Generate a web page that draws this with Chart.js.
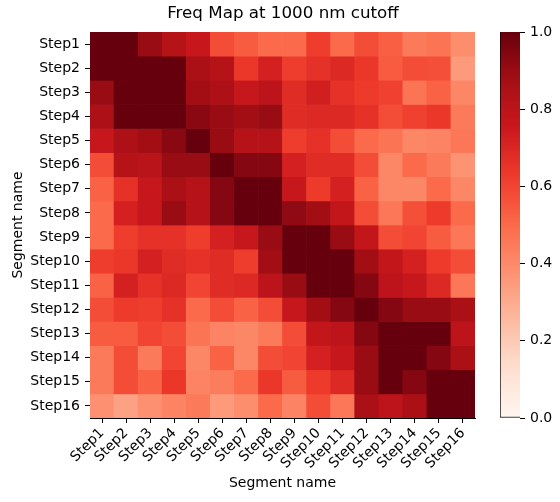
<!DOCTYPE html>
<html>
<head>
<meta charset="utf-8">
<script src="https://cdn.jsdelivr.net/npm/chart.js@4/dist/chart.umd.min.js"></script>
<style>
  body { margin: 0; background: #fff; }
  #wrap { position: relative; width: 560px; height: 502px; }
  #heat { position: absolute; left: 0; top: 0; }
  #bar { position: absolute; left: 490px; top: 0; }
</style>
</head>
<body>
<div id="wrap">
  <canvas id="heat" width="560" height="502"></canvas>
  <canvas id="bar" width="70" height="502"></canvas>
</div>
<script>
const rowLabels = ["Step1", "Step2", "Step3", "Step4", "Step5", "Step6", "Step7", "Step8",
  "Step9", "Step10", "Step11", "Step12", "Step13", "Step14", "Step15", "Step16"];
const colLabels = rowLabels.slice();

// one array per row (Step1 .. Step16), values 0..1
const step1 = [1.0, 1.0, 0.9, 0.82, 0.76, 0.58, 0.54, 0.5, 0.5, 0.62, 0.5, 0.58, 0.53, 0.45, 0.47, 0.39];
const step2 = [1.0, 1.0, 1.0, 1.0, 0.86, 0.82, 0.64, 0.72, 0.62, 0.66, 0.69, 0.64, 0.54, 0.58, 0.57, 0.35];
const step3 = [0.9, 1.0, 1.0, 1.0, 0.88, 0.85, 0.77, 0.8, 0.68, 0.73, 0.66, 0.63, 0.61, 0.47, 0.52, 0.41];
const step4 = [0.85, 1.0, 1.0, 1.0, 0.93, 0.9, 0.88, 0.9, 0.68, 0.69, 0.69, 0.66, 0.58, 0.61, 0.64, 0.45];
const step5 = [0.77, 0.85, 0.88, 0.93, 1.0, 0.9, 0.82, 0.82, 0.62, 0.66, 0.58, 0.5, 0.47, 0.41, 0.42, 0.46];
const step6 = [0.58, 0.82, 0.81, 0.9, 0.9, 1.0, 0.94, 0.94, 0.72, 0.68, 0.68, 0.58, 0.41, 0.5, 0.45, 0.37];
const step7 = [0.52, 0.66, 0.77, 0.86, 0.82, 0.94, 1.0, 1.0, 0.77, 0.63, 0.72, 0.52, 0.41, 0.41, 0.5, 0.41];
const step8 = [0.5, 0.72, 0.77, 0.9, 0.82, 0.94, 1.0, 1.0, 0.92, 0.88, 0.78, 0.58, 0.46, 0.57, 0.63, 0.5];
const step9 = [0.5, 0.62, 0.66, 0.66, 0.62, 0.72, 0.77, 0.9, 1.0, 1.0, 0.9, 0.78, 0.58, 0.6, 0.54, 0.46];
const step10 = [0.62, 0.64, 0.72, 0.68, 0.66, 0.68, 0.62, 0.88, 1.0, 1.0, 1.0, 0.88, 0.78, 0.72, 0.63, 0.58];
const step11 = [0.52, 0.72, 0.66, 0.69, 0.6, 0.68, 0.69, 0.8, 0.9, 1.0, 1.0, 0.94, 0.8, 0.77, 0.69, 0.46];
const step12 = [0.58, 0.63, 0.62, 0.66, 0.5, 0.58, 0.52, 0.58, 0.77, 0.88, 0.94, 1.0, 0.94, 0.9, 0.9, 0.86];
const step13 = [0.54, 0.54, 0.6, 0.58, 0.47, 0.42, 0.41, 0.45, 0.58, 0.78, 0.8, 0.94, 1.0, 1.0, 1.0, 0.8];
const step14 = [0.45, 0.58, 0.45, 0.6, 0.41, 0.52, 0.41, 0.58, 0.6, 0.72, 0.77, 0.9, 1.0, 1.0, 0.94, 0.86];
const step15 = [0.45, 0.58, 0.52, 0.64, 0.42, 0.44, 0.5, 0.64, 0.54, 0.63, 0.69, 0.9, 1.0, 0.94, 1.0, 1.0];
const step16 = [0.38, 0.33, 0.38, 0.42, 0.45, 0.35, 0.39, 0.5, 0.42, 0.58, 0.46, 0.86, 0.8, 0.86, 1.0, 1.0];
const rows = [step1, step2, step3, step4, step5, step6, step7, step8,
  step9, step10, step11, step12, step13, step14, step15, step16];

const cbTicks = [0, 0.2, 0.4, 0.6, 0.8, 1.0];

// matplotlib "Reds"
const REDS = ["#fff5f0", "#fee0d2", "#fcbba1", "#fc9272", "#fb6a4a",
  "#ef3b2c", "#cb181d", "#a50f15", "#67000d"];

function hexRgb(h) {
  return [1, 3, 5].map((i) => parseInt(h.substr(i, 2), 16));
}

function reds(v) {
  v = Math.max(0, Math.min(1, v));
  const pos = v * (REDS.length - 1);
  const i = Math.min(Math.floor(pos), REDS.length - 2);
  const t = pos - i;
  const a = hexRgb(REDS[i]);
  const b = hexRgb(REDS[i + 1]);
  const c = a.map((x, k) => Math.round(x + (b[k] - x) * t));
  return "rgb(" + c.join(",") + ")";
}

Chart.defaults.font.family = "'DejaVu Sans', sans-serif";
Chart.defaults.font.size = 14;
Chart.defaults.color = "#000";

const FONT = { family: "'DejaVu Sans', sans-serif", size: 14 };

// heatmap: one floating-bar dataset per row
const heatDatasets = rows.map((vals, r) => ({
  label: rowLabels[r],
  data: vals.map(() => [r, r + 1]),
  backgroundColor: vals.map(reds),
  borderWidth: 0,
  barPercentage: 1,
  categoryPercentage: 1,
  grouped: false,
}));

new Chart(document.getElementById("heat"), {
  type: "bar",
  data: { labels: colLabels, datasets: heatDatasets },
  options: {
    responsive: false,
    animation: false,
    layout: { padding: { left: 6, right: 0, top: 0, bottom: 0 } },
    plugins: {
      legend: { display: false },
      tooltip: { enabled: false },
      title: {
        display: true,
        text: "Freq Map at 1000 nm cutoff",
        font: { family: FONT.family, size: 16.7, weight: "normal" },
        color: "#000",
        padding: { top: 4, bottom: 8 },
      },
    },
    scales: {
      x: {
        type: "category",
        offset: true,
        grid: { display: true, drawOnChartArea: false, offset: false, tickLength: 5, color: "#000" },
        border: { display: true, color: "#000", width: 1 },
        ticks: { minRotation: 45, maxRotation: 45, padding: 2, font: FONT, autoSkip: false },
        title: { display: true, text: "Segment name", font: FONT, padding: { top: 0, bottom: 10 } },
        afterFit: (s) => { s.height = 84; },
      },
      y: {
        type: "linear",
        min: 0,
        max: rowLabels.length,
        reverse: true,
        grid: { display: true, drawOnChartArea: false, tickLength: 5, color: "#000" },
        border: { display: true, color: "#000", width: 1 },
        afterBuildTicks: (s) => { s.ticks = rowLabels.map((_, i) => ({ value: i + 0.5 })); },
        ticks: { padding: 5, font: FONT, autoSkip: false, callback: (v, i) => rowLabels[i] },
        title: { display: true, text: "Segment name", font: FONT, padding: { top: 4, bottom: 0 } },
        afterFit: (s) => { s.width = 84; },
      },
      // empty right-hand box that leaves room for the colorbar
      space: {
        type: "linear",
        position: "right",
        display: true,
        grid: { display: false },
        border: { display: false },
        ticks: { display: false },
        afterFit: (s) => { s.width = 85; },
      },
    },
  },
});

// colorbar: a single floating bar filled with the colormap gradient
new Chart(document.getElementById("bar"), {
  type: "bar",
  data: {
    labels: [""],
    datasets: [{
      data: [[cbTicks[0], cbTicks[cbTicks.length - 1]]],
      barPercentage: 1,
      categoryPercentage: 1,
      borderWidth: { left: 1, bottom: 1, top: 0, right: 0 },
      borderColor: "#000",
      borderSkipped: false,
      backgroundColor: (ctx) => {
        const area = ctx.chart.chartArea;
        if (!area) return REDS[4];
        const g = ctx.chart.ctx.createLinearGradient(0, area.bottom, 0, area.top);
        for (let i = 0; i <= 20; i++) g.addColorStop(i / 20, reds(i / 20));
        return g;
      },
    }],
  },
  options: {
    responsive: false,
    animation: false,
    layout: { padding: { left: 10, right: 0, top: 32, bottom: 84 } },
    plugins: { legend: { display: false }, tooltip: { enabled: false } },
    scales: {
      x: { display: false, offset: true },
      y: {
        position: "right",
        min: 0,
        max: 1,
        grid: { display: true, drawOnChartArea: false, tickLength: 5, color: "#000" },
        border: { display: false },
        afterBuildTicks: (s) => { s.ticks = cbTicks.map((v) => ({ value: v })); },
        ticks: { padding: 5, font: FONT, callback: (v) => v.toFixed(1) },
        afterFit: (s) => { s.width = 40; },
      },
    },
  },
});
</script>
</body>
</html>
